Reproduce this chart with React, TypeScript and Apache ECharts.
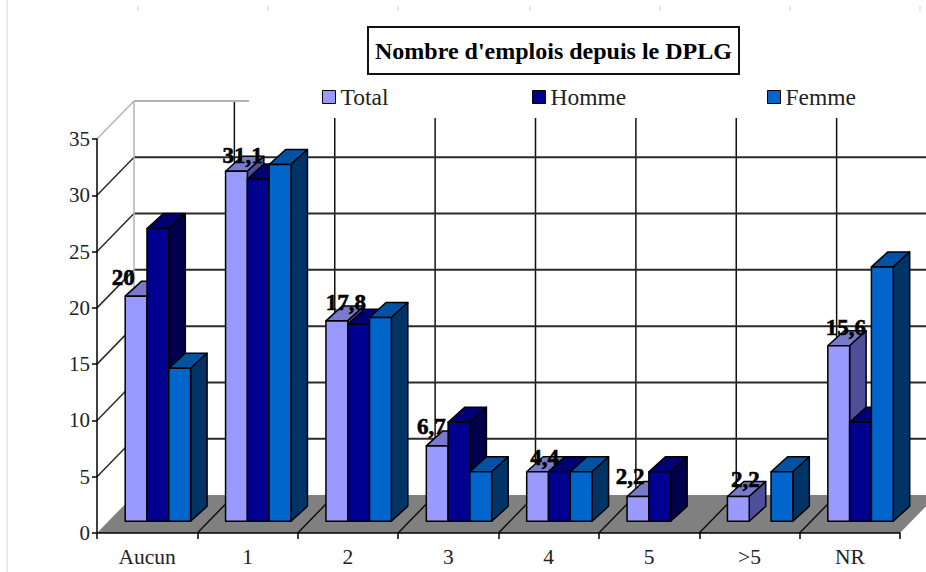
import React, { useEffect, useRef } from "react";
import * as echarts from "echarts";

const categories = ["Aucun", "1", "2", "3", "4", "5", ">5", "NR"];
const totalValues = [20, 31.1, 17.8, 6.7, 4.4, 2.2, 2.2, 15.6];
const hommeValues = [26, 30.4, 17.5, 8.8, 4.4, 4.4, 0, 8.8];
const femmeValues = [13.6, 31.7, 18.1, 4.4, 4.4, 0, 4.4, 22.6];
const yTicks = [5, 10, 15, 20, 25, 30, 35];
const totalLabels = ["20", "31,1", "17,8", "6,7", "4,4", "2,2", "2,2", "15,6"];

// layout constants (pixels)
const labelNudge = [[-2, -19], [17, -16], [20, -18], [5, -19], [18, -14], [3, -20], [18, -17], [18, -18]];
const FONT = '"Liberation Serif", serif';
const WALL_DX = 37, WALL_DY = 38;
const BAR_DX = 16.5, BAR_DY = 15;
const BAR_FRONT_DY = 11.7, BAR_W = 21.8, BAR_LEFT = -22;

const palette = [
  { front: "#9999ff", top: "#7a7acc", side: "#4f4f99" },
  { front: "#000090", top: "#000072", side: "#00004c" },
  { front: "#0066cc", top: "#0052a3", side: "#003366" },
];

function barSeries(name: string, values: number[], idx: number) {
  const c = palette[idx];
  return {
    name,
    type: "custom",
    z: 4 + idx,
    itemStyle: { color: c.front },
    encode: { x: 0, y: 1 },
    data: values.map((v, i) => [i, v]),
    renderItem: (_p: any, api: any) => {
      const i = api.value(0), v = api.value(1);
      if (!v) return { type: "group", children: [] };
      const base = api.coord([i, 0]);
      const topP = api.coord([i, v]);
      const x0 = base[0] + BAR_LEFT + idx * BAR_W;
      const x1 = x0 + BAR_W;
      const yb = base[1] - BAR_FRONT_DY;
      const yt = topP[1] - BAR_FRONT_DY;
      const st = { stroke: "#000", lineWidth: 1.5, lineJoin: "round" };
      const children: any[] = [
        { type: "polygon", shape: { points: [[x0, yt], [x1, yt], [x1 + BAR_DX, yt - BAR_DY], [x0 + BAR_DX, yt - BAR_DY]] }, style: { ...st, fill: c.top } },
        { type: "polygon", shape: { points: [[x1, yt], [x1 + BAR_DX, yt - BAR_DY], [x1 + BAR_DX, yb - BAR_DY], [x1, yb]] }, style: { ...st, fill: c.side } },
        { type: "rect", shape: { x: x0, y: yt, width: BAR_W, height: yb - yt }, style: { ...st, fill: c.front } },
      ];
      if (idx === 0) {
        const n = labelNudge[i];
        children.push({
          type: "text",
          x: x0 + n[0],
          y: yt + n[1],
          style: { text: totalLabels[i], fill: "#000", stroke: "#000", lineWidth: 0.6, font: `bold 23px ${FONT}`, textAlign: "center", textVerticalAlign: "middle" },
        });
      }
      return { type: "group", children };
    },
  };
}

export default function App() {
  const ref = useRef<HTMLDivElement>(null);
  useEffect(() => {
    document.body.style.background = "#fff";
    const chart = echarts.init(ref.current!, null, { renderer: "svg" });
    const lastCat = categories.length - 1;
    chart.setOption({
      animation: false,
      backgroundColor: "#fff",
      textStyle: { fontFamily: FONT },
      title: {
        text: "Nombre d'emplois depuis le DPLG",
        left: 368,
        top: 27,
        padding: [12, 7, 11, 7],
        borderColor: "#111",
        borderWidth: 2,
        backgroundColor: "#fff",
        textStyle: { fontFamily: FONT, fontWeight: "bold", fontSize: 24, color: "#000", lineHeight: 24 },
      },
      legend: [
        ["Total", 322],
        ["Homme", 532],
        ["Femme", 767],
      ].map(([n, l]) => ({
        data: [n],
        left: l,
        top: 85,
        padding: 0,
        icon: "rect",
        itemWidth: 13,
        itemHeight: 13,
        itemStyle: { borderColor: "#000", borderWidth: 1 },
        textStyle: { fontFamily: FONT, fontSize: 23.5, color: "#222", lineHeight: 24 },
        selectedMode: false,
      })),
      grid: { left: 97, right: 26, top: 139, bottom: 39, containLabel: false },
      xAxis: {
        type: "category",
        data: categories,
        z: 3,
        axisLine: { lineStyle: { color: "#000", width: 1.5 } },
        axisTick: { show: true, length: 6, alignWithLabel: false, lineStyle: { color: "#000", width: 1.5 } },
        axisLabel: { color: "#222", fontFamily: FONT, fontSize: 21.5, margin: 13, interval: 0 },
        splitLine: { show: false },
      },
      yAxis: {
        type: "value",
        min: 0,
        max: 35,
        interval: 5,
        z: 3,
        axisLine: { show: true, lineStyle: { color: "#000", width: 1.5 } },
        axisTick: { show: true, length: 5, lineStyle: { color: "#000", width: 1.5 } },
        axisLabel: { color: "#222", fontFamily: FONT, fontSize: 21, margin: 7 },
        splitLine: { show: false },
      },
      graphic: [
        {
          type: "group",
          z: 3,
          silent: true,
          children: [
            { type: "rect", z: 3, shape: { x: 249, y: 82, width: 677, height: 36 }, style: { fill: "#fff" } },
            { type: "line", shape: { x1: 7, y1: 0, x2: 7, y2: 572 }, style: { stroke: "#d8d8d8", lineWidth: 1 } },
            ...[138, 268, 398, 530, 660, 790, 920].map((x) => ({
              type: "line",
              shape: { x1: x, y1: 6, x2: x, y2: 11 },
              style: { stroke: "#cfcfcf", lineWidth: 1 },
            })),
            { type: "line", shape: { x1: 925, y1: 95, x2: 925, y2: 100 }, style: { stroke: "#999", lineWidth: 1 } },
          ],
        },
      ],
      series: [
        {
          name: "floor",
          type: "custom",
          z: 1,
          silent: true,
          encode: { x: 0, y: 1 },
          data: [[0, 0]],
          renderItem: (_p: any, api: any) => {
            const band = api.size([1, 0])[0];
            const a = api.coord([0, 0]);
            const b = api.coord([lastCat, 0]);
            const xl = a[0] - band / 2, xr = b[0] + band / 2, y = a[1];
            return {
              type: "polygon",
              shape: { points: [[xl, y], [xr, y], [xr + WALL_DX, y - WALL_DY], [xl + WALL_DX, y - WALL_DY]] },
              style: { fill: "#808080" },
            };
          },
        },
        {
          name: "vertical grid",
          type: "custom",
          z: 2,
          silent: true,
          encode: { x: 0, y: 1 },
          data: categories.map((_, i) => [i, 0]),
          renderItem: (_p: any, api: any) => {
            const i = api.value(0);
            const band = api.size([1, 0])[0];
            const b = api.coord([i, 0]);
            const t = api.coord([i, 35]);
            const x = b[0] + band / 2;
            const children: any[] = [];
            if (i < lastCat) {
              children.push(
                { type: "line", shape: { x1: x + WALL_DX, y1: b[1] - WALL_DY, x2: x + WALL_DX, y2: t[1] - WALL_DY }, style: { stroke: "#111", lineWidth: 1.5 } },
                { type: "line", shape: { x1: x, y1: b[1], x2: x + WALL_DX, y2: b[1] - WALL_DY }, style: { stroke: "#111", lineWidth: 1.5 } }
              );
            }
            return { type: "group", children };
          },
        },
        {
          name: "wall grid",
          type: "custom",
          z: 2,
          silent: true,
          encode: { x: 0, y: 1 },
          data: yTicks.map((v) => [0, v]),
          renderItem: (_p: any, api: any) => {
            const v = api.value(1);
            const band = api.size([1, 0])[0];
            const p = api.coord([0, v]);
            const e = api.coord([lastCat, v]);
            const xl = p[0] - band / 2, xr = e[0] + band / 2, y = p[1];
            const isTop = v === 35;
            const color = isTop ? "#b4b4b4" : "#2a2a2a";
            const children: any[] = [
              { type: "line", shape: { x1: xl, y1: y, x2: xl + WALL_DX, y2: y - WALL_DY }, style: { stroke: color, lineWidth: 1.5 } },
              { type: "line", shape: { x1: xl + WALL_DX, y1: y - WALL_DY, x2: xr + WALL_DX, y2: y - WALL_DY }, style: { stroke: color, lineWidth: 2 } },
            ];
            if (isTop) {
              const z = api.coord([0, 0]);
              children.push({ type: "line", shape: { x1: xl + WALL_DX, y1: y - WALL_DY, x2: xl + WALL_DX, y2: z[1] - WALL_DY }, style: { stroke: "#b4b4b4", lineWidth: 1.5 } });
            }
            return { type: "group", children };
          },
        },
        barSeries("Total", totalValues, 0),
        barSeries("Homme", hommeValues, 1),
        barSeries("Femme", femmeValues, 2),
      ],
    });
    return () => chart.dispose();
  }, []);
  return <div ref={ref} style={{ position: "fixed", left: 0, top: 0, width: 926, height: 572 }} />;
}
